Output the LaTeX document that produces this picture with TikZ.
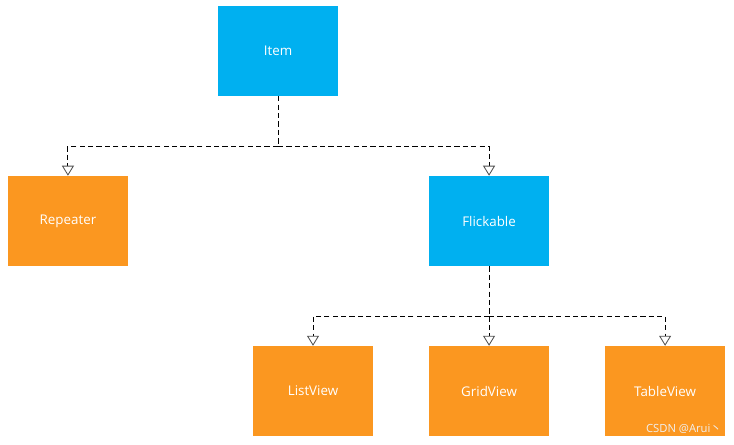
\documentclass[tikz,border=0pt]{standalone}
\usepackage{fontspec}
\setmainfont{Open Sans}
\newfontfamily\cjkfont{Noto Sans CJK SC}
\usepackage{xcolor}
\usetikzlibrary{positioning, arrows.meta}

\definecolor{qtblue}{HTML}{00B0F0}
\definecolor{qtorange}{HTML}{FB9720}
\definecolor{tipgray}{HTML}{505050}

\tikzset{
  cls/.style={rectangle, minimum width=3cm, minimum height=2.25cm, text=white, font=\fontsize{9.5}{11}\selectfont, inner sep=0pt},
  inherit/.style={dashed, dash pattern=on 0.13cm off 0.08cm, line width=0.7pt, -{Triangle[open, width=0.3cm, length=0.25cm, color=tipgray, line width=0.6pt]}},
  link/.style={dashed, dash pattern=on 0.13cm off 0.08cm, line width=0.7pt}
}

\begin{document}
\begin{tikzpicture}[x=0.025cm, y=-0.025cm, node distance=4.25cm]
  \useasboundingbox (0,0) rectangle (734,445);
  \node (item) [cls, fill=qtblue] at (278,51) {Item};
  \node (repeater) [cls, fill=qtorange, below of=item, xshift=-5.25cm] {Repeater};
  \node (flickable) [cls, fill=qtblue, below of=item, xshift=5.275cm] {Flickable};
  \node (gridview) [cls, fill=qtorange, below of=flickable] {GridView};
  \node (listview) [cls, fill=qtorange, left of=gridview, node distance=4.4cm] {ListView};
  \node (tableview) [cls, fill=qtorange, right of=gridview, node distance=4.4cm] {TableView};
  % inheritance lines
  \draw[link] (item.south) -- ++(0,-1.25cm) coordinate (j1);
  \draw[inherit] (j1) -| (repeater.north);
  \draw[inherit] (j1) -| (flickable.north);
  \draw[link] (flickable.south) -- ++(0,-1.25cm) coordinate (j2);
  \draw[inherit] (j2) -| (listview.north);
  \draw[inherit] (j2) -- (gridview.north);
  \draw[inherit] (j2) -| (tableview.north);
  \node (mark) [text=white!88!gray, font=\fontsize{8}{9}\selectfont, anchor=east, inner sep=0pt] at (722,429) {CSDN @Arui{\cjkfont 丶}};
\end{tikzpicture}
\end{document}
